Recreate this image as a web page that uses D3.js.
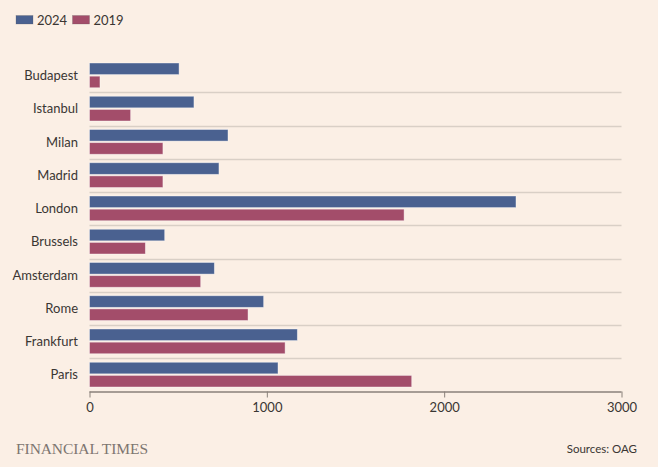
<!DOCTYPE html>
<html><head><meta charset="utf-8">
<script src="https://cdn.jsdelivr.net/npm/d3@7"></script>
<style>
html,body{margin:0;padding:0;background:#fbefe5;}
svg{display:block;}
text{font-family:Lato,"Open Sans",sans-serif;}
</style></head>
<body><svg id="chart" width="658" height="467"></svg>
<script>
const cities = ["Budapest","Istanbul","Milan","Madrid","London","Brussels","Amsterdam","Rome","Frankfurt","Paris"];
const values2024 = [505, 589, 781, 730, 2405, 424, 704, 982, 1172, 1063];
const values2019 = [59, 232, 414, 414, 1774, 315, 627, 894, 1103, 1817];
const seriesNames = ["2024","2019"];
const seriesColors = ["#4a6190","#a34d6a"];
const xTicks = [0,1000,2000,3000];

(function(){
const svg = d3.select("#chart");
svg.append("rect").attr("width",658).attr("height",467).attr("fill","#fbefe5");

const mLeft = 89.5, mRight = 621.5, mTop = 59, mBottom = 391.5;
const x = d3.scaleLinear().domain([0,3000]).range([mLeft,mRight]);
const y = d3.scaleBand().domain(cities).range([mTop,mBottom]).paddingInner(0).paddingOuter(0);
const sub = d3.scaleBand().domain(seriesNames).range([4, y.bandwidth()-4.5]).paddingInner(0.12);

svg.append("g").selectAll("line").data(cities.slice(0,-1)).join("line")
  .attr("x1",mLeft).attr("x2",mRight)
  .attr("y1",d=>Math.round(y(d)+y.bandwidth())+0.5)
  .attr("y2",d=>Math.round(y(d)+y.bandwidth())+0.5)
  .attr("stroke","#d9cfc6").attr("stroke-width",1.3);

const data = [];
cities.forEach((c,i)=>{
  data.push({city:c, s:"2024", v:values2024[i], col:seriesColors[0]});
  data.push({city:c, s:"2019", v:values2019[i], col:seriesColors[1]});
});
svg.append("g").selectAll("rect").data(data).join("rect")
  .attr("x",x(0))
  .attr("y",d=>y(d.city)+sub(d.s))
  .attr("width",d=>x(d.v)-x(0))
  .attr("height",sub.bandwidth())
  .attr("fill",d=>d.col)
  .attr("stroke","#ffffff").attr("stroke-opacity",0.5).attr("stroke-width",0.8);

svg.append("g").selectAll("text").data(cities).join("text")
  .attr("x",78).attr("y",d=>y(d)+y.bandwidth()/2+4.5)
  .attr("text-anchor","end").attr("font-size",13).attr("fill","#3a3633")
  .text(d=>d);

const ax = svg.append("g").attr("transform",`translate(0,${mBottom})`)
  .call(d3.axisBottom(x).tickValues(xTicks).tickSize(6).tickPadding(5).tickFormat(d3.format("d")));
ax.select(".domain").attr("stroke","#8a817a").attr("stroke-width",1.3).attr("d",`M${mLeft},0.5H${mRight}`);
ax.selectAll(".tick line").attr("stroke","#8a817a").attr("y1",0).attr("y2",6);
ax.selectAll(".tick text").attr("font-size",13).attr("fill","#3a3633").style("font-family","Lato,'Open Sans',sans-serif");

const lg = svg.append("g");
const legX = [16, 72.5];
seriesNames.forEach((s,i)=>{
  lg.append("rect").attr("x",legX[i]).attr("y",15.5).attr("width",17).attr("height",8.5)
    .attr("fill",seriesColors[i]).attr("stroke","#555").attr("stroke-opacity",0.4).attr("stroke-width",0.6);
  lg.append("text").attr("x",legX[i]+21).attr("y",24.5).attr("font-size",13).attr("fill","#3a3633").text(s);
});

svg.append("text").attr("x",16).attr("y",453.5).style("font-family","'Liberation Serif','DejaVu Serif',serif")
  .attr("font-size",15.5).attr("fill","#7d7570").attr("textLength",132).text("FINANCIAL TIMES");
svg.append("text").attr("x",637).attr("y",453).attr("text-anchor","end").attr("font-size",11.5)
  .attr("fill","#3a3633").text("Sources: OAG");
})();
</script></body></html>
